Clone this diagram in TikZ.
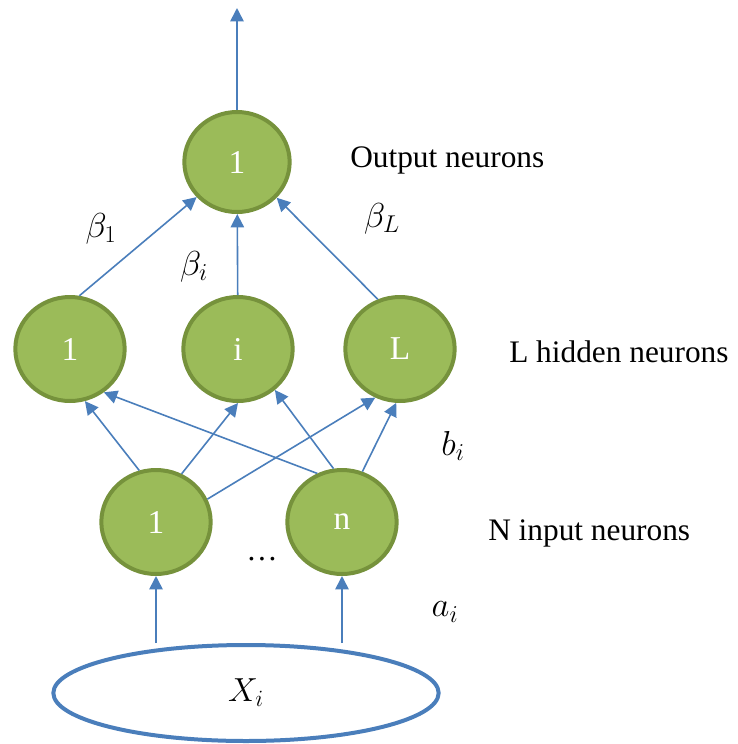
\RequirePackage{fix-cm}
\documentclass[tikz,border=0pt]{standalone}
\usepackage{fontspec}
\setmainfont{Liberation Serif}
\usepackage{tikz}
\usetikzlibrary{arrows.meta, shapes.geometric}
\definecolor{leaf}{RGB}{155,187,89}
\definecolor{rim}{RGB}{118,146,60}
\definecolor{wire}{RGB}{74,126,187}

\begin{document}
\begin{tikzpicture}[x=0.75pt,y=-0.75pt,
  neuron/.style={ellipse,draw=rim,fill=leaf,line width=3pt,minimum width=82pt,minimum height=78pt,inner sep=0pt,text=white,font=\fontsize{25}{30}\selectfont},
  link/.style={wire,line width=1.2pt,-{Triangle[length=10pt,width=10pt]}},
  tag/.style={inner sep=0pt,font=\fontsize{23.5}{28}\selectfont}]
  \useasboundingbox (0,0) rectangle (738,744);
  % neurons
  \node[neuron,minimum width=79pt,minimum height=75pt] (out) at (237,162) {1};
  \node[neuron] (hid1) at (70,349) {1};
  \node[neuron] (hidi) at (238,349) {i};
  \node[neuron] (hidL) at (400,349) {L};
  \node[neuron] (in1) at (156,522) {1};
  \node[neuron] (inn) at (342,522) {n};
  \node[ellipse,draw=wire,line width=3pt,minimum width=289pt,minimum height=72pt,inner sep=0pt,font=\fontsize{25}{30}\selectfont] (xin) at (246,693) {$X_i$};
  \coordinate (top) at (237,8);
  % connections
  \draw[link](out)--(top);
  \draw[link](hid1.80)--(out.221);
  \draw[link](hidi)--(out);
  \draw[link](hidL.114)--(out.318);
  \draw[link](in1.108)--(hid1.286);
  \draw[link](in1.62)--(hidi.270);
  \draw[link](in1.24)--(hidL.243);
  \draw[link](inn.117)--(hid1.308);
  \draw[link](inn.99)--(hidi.312);
  \draw[link](inn.68)--(hidL.266);
  \draw[link](xin.north -| in1)--(in1);
  \draw[link](xin.north -| inn)--(inn);
  % weights and layer names
  \node[tag,font=\fontsize{26}{30}\selectfont] (beta1) at (101,229) {$\beta_1$};
  \node[tag,font=\fontsize{26}{30}\selectfont] (betai) at (194,267) {$\beta_i$};
  \node[tag,font=\fontsize{26}{30}\selectfont] (betaL) at (382,219) {$\beta_L$};
  \node[tag,font=\fontsize{26}{30}\selectfont] (bias) at (453,446) {$b_i$};
  \node[tag,font=\fontsize{26}{30}\selectfont] (wts) at (445,612) {$a_i$};
  \node[tag,anchor=base] (dots) at (262,560) {\dots};
  \node[tag,anchor=base west] (outname) at (350,167) {Output neurons};
  \node[tag,anchor=base west] (hidname) at (509,362) {L hidden neurons};
  \node[tag,anchor=base west] (inname) at (488,540) {N input neurons};
\end{tikzpicture}
\end{document}
